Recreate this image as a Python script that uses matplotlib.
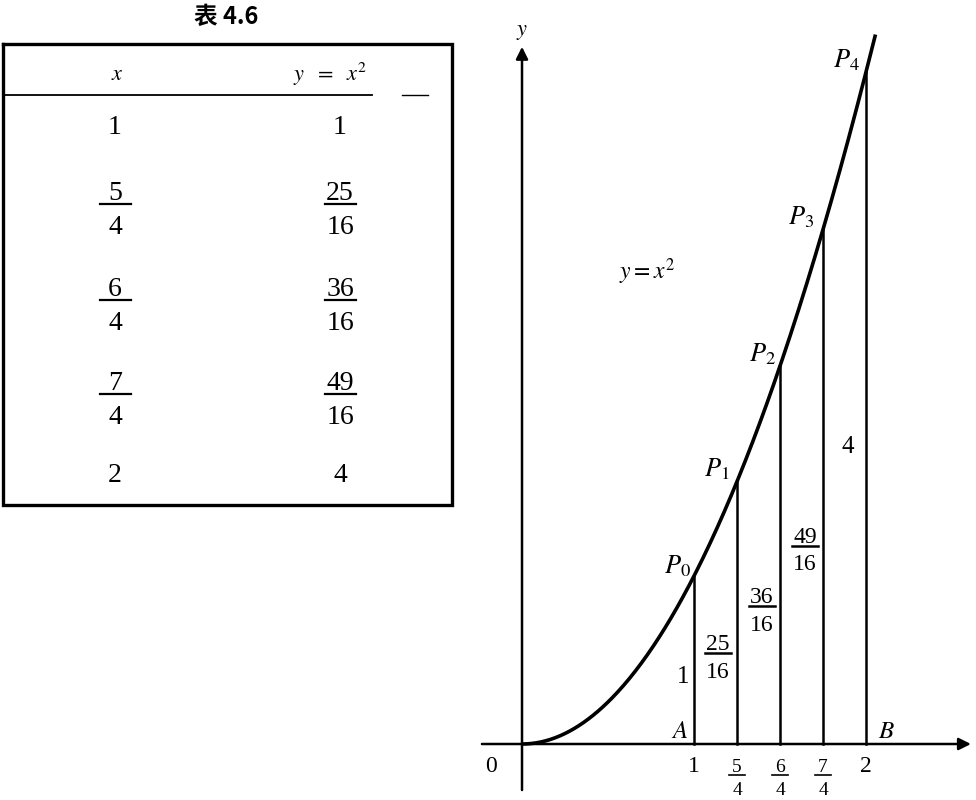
import numpy as np
import matplotlib
matplotlib.use("Agg")
import matplotlib.pyplot as plt

plt.rcParams['mathtext.fontset'] = 'stix'
SERIF = ['Liberation Serif', 'DejaVu Serif']

# ---- data ----
x_vals = [1, 5/4, 6/4, 7/4, 2]
y_vals = [1, 25/16, 36/16, 49/16, 4]
x_num = ['1', '5', '6', '7', '2']
x_den = [None, '4', '4', '4', None]
y_num = ['1', '25', '36', '49', '4']
y_den = [None, '16', '16', '16', None]
point_names = ['P_0', 'P_1', 'P_2', 'P_3', 'P_4']
table_title = '表 4.6'
curve_end = 2.055

fig = plt.figure(figsize=(9.76, 8.0), dpi=100)
fig.patch.set_facecolor('white')

# ---- right: graph of y = x^2 ----
ax = fig.add_axes([460/976, 0, 516/976, 1])
ax.set_xlim(-0.3605, 2.6395)
ax.set_ylim(-0.3333, 4.4286)
ax.axis('off')

xc = np.linspace(0, curve_end, 300)
ax.plot(xc, xc**2, color='black', lw=2.6, solid_capstyle='butt')
for xv, yv in zip(x_vals, y_vals):
    ax.plot([xv, xv], [0, yv], color='black', lw=1.8)

ax.annotate('', xy=(2.61, 0), xytext=(-0.233, 0),
            arrowprops=dict(arrowstyle='-|>', lw=1.8, color='black', mutation_scale=18,
                            shrinkA=0, shrinkB=0))
ax.annotate('', xy=(0, 4.15), xytext=(0, -0.274),
            arrowprops=dict(arrowstyle='-|>', lw=1.8, color='black', mutation_scale=18,
                            shrinkA=0, shrinkB=0))

# ---- overlay axes in pixel coordinates (y downward) ----
ov = fig.add_axes([0, 0, 1, 1])
ov.set_xlim(0, 976)
ov.set_ylim(800, 0)
ov.axis('off')
ov.patch.set_visible(False)


def to_px(x, y):
    d = ax.transData.transform((x, y))
    return d[0], 800 - d[1]


def frac(px, py, num, den, size, w, gap=2.5, lw=1.4):
    ov.text(px, py - gap, num, ha='center', va='baseline', fontsize=size, family=SERIF)
    ov.plot([px - w/2, px + w/2], [py, py], color='black', lw=lw)
    ov.text(px, py + gap + size*0.92*1.389, den, ha='center', va='baseline',
            fontsize=size, family=SERIF)


# y-axis label, origin, A, B
ov.text(522, 32, '$y$', ha='center', va='center', fontsize=16)
ov.text(491, 766, '0', ha='center', va='center', fontsize=17, family=SERIF)
ov.text(680, 731, '$A$', ha='center', va='center', fontsize=18)
ov.text(886, 731, '$B$', ha='center', va='center', fontsize=18)
ov.text(647, 272, '$y = x^2$', ha='center', va='center', fontsize=17)

# x tick labels
for xv, n, d in zip(x_vals, x_num, x_den):
    px, _ = to_px(xv, 0)
    if d is None:
        ov.text(px, 766, n, ha='center', va='center', fontsize=17, family=SERIF)
    else:
        frac(px, 775, n, d, 14, 16, gap=2.5, lw=1.2)

# point names
p_off = [(-17, -10), (-20, -12), (-18, -12), (-22, -12), (-20, -12)]
for xv, yv, nm, (dx, dy) in zip(x_vals, y_vals, point_names, p_off):
    px, py = to_px(xv, yv)
    ov.text(px + dx, py + dy, '$' + nm + '$', ha='center', va='center', fontsize=19)

# height labels beside vertical lines
h_pos = [(0.935, 0.40), (1.14, 0.54), (1.395, 0.82), (1.645, 1.18), (1.895, 1.77)]
for (hx, hy), n, d in zip(h_pos, y_num, y_den):
    px, py = to_px(hx, hy)
    if d is None:
        ov.text(px, py, n, ha='center', va='center', fontsize=18, family=SERIF)
    else:
        frac(px, py, n, d, 17, 26, gap=3, lw=1.8)

# ---- left: table ----
ov.text(226, 17, table_title, ha='center', va='center', fontsize=17, fontweight='bold',
        family=['Noto Sans CJK SC', 'DejaVu Sans'])
L, R, T, B = 3, 452, 44, 505
ov.plot([L, R, R, L, L], [T, T, B, B, T], color='black', lw=2.4, solid_joinstyle='miter')
ov.plot([L, 372], [95, 95], color='black', lw=1.3)
ov.plot([402, 428], [95, 95], color='black', lw=1.0)
ov.text(117, 74, '$x$', ha='center', va='center', fontsize=16)
ov.text(330, 74, r'$y\ \ =\ \ x^2$', ha='center', va='center', fontsize=16)

row_y = [128, 204, 300, 394, 475]
for ry, xn, xd, yn, yd in zip(row_y, x_num, x_den, y_num, y_den):
    if xd is None:
        ov.text(115, ry, xn, ha='center', va='center', fontsize=20, family=SERIF)
    else:
        frac(115, ry, xn, xd, 20, 31, gap=4, lw=1.6)
    if yd is None:
        ov.text(340, ry, yn, ha='center', va='center', fontsize=20, family=SERIF)
    else:
        frac(340, ry, yn, yd, 20, 31, gap=4, lw=1.6)

fig.savefig('out.png', dpi=100, facecolor='white')
